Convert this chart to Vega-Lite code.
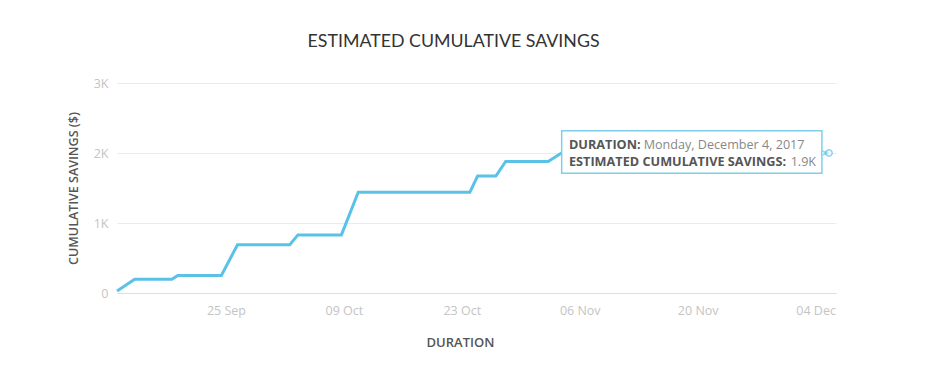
{
  "$schema": "https://vega.github.io/schema/vega-lite/v6.json",
  "autosize": "none",
  "width": 719,
  "height": 210,
  "padding": {"left": 117, "top": 83, "right": 100, "bottom": 89},
  "background": "white",
  "config": {
    "view": {"stroke": null},
    "font": "Open Sans"
  },
  "title": {
    "text": "ESTIMATED CUMULATIVE SAVINGS",
    "font": "Lato",
    "fontSize": 17.8,
    "fontWeight": "normal",
    "color": "#333333",
    "anchor": "middle",
    "frame": "group",
    "dx": -23,
    "offset": 26
  },
  "datasets": {
    "savings": [
      {"date": "2017-09-12T02:00", "value": 30},
      {"date": "2017-09-14T04:00", "value": 195},
      {"date": "2017-09-18T14:00", "value": 195},
      {"date": "2017-09-19T07:00", "value": 250},
      {"date": "2017-09-24T11:00", "value": 250},
      {"date": "2017-09-26T09:00", "value": 690},
      {"date": "2017-10-02T14:00", "value": 690},
      {"date": "2017-10-03T13:00", "value": 830},
      {"date": "2017-10-08T17:00", "value": 830},
      {"date": "2017-10-10T17:00", "value": 1440},
      {"date": "2017-10-23T23:00", "value": 1440},
      {"date": "2017-10-24T21:00", "value": 1670},
      {"date": "2017-10-27T01:00", "value": 1670},
      {"date": "2017-10-28T05:00", "value": 1880},
      {"date": "2017-11-02T06:00", "value": 1880},
      {"date": "2017-11-03T20:00", "value": 2000},
      {"date": "2017-12-05T14:00", "value": 2000}
    ],
    "hover": [
      {"date": "2017-12-05T14:00", "value": 2000}
    ],
    "box": [
      {"start": "2017-11-03T20:30", "end": "2017-12-04T17:50", "low": 1710, "high": 2319}
    ],
    "boldText": [
      {"date": "2017-11-04T17:15", "value": 2057, "label": "DURATION:"},
      {"date": "2017-11-04T17:15", "value": 1819, "label": "ESTIMATED CUMULATIVE SAVINGS:"}
    ],
    "plainText": [
      {"date": "2017-11-13T14:00", "value": 2057, "label": "Monday, December 4, 2017"},
      {"date": "2017-12-01T00:45", "value": 1819, "label": "1.9K"}
    ]
  },
  "layer": [
    {
      "data": {"name": "savings"},
      "mark": {"type": "line", "color": "#5BC2E7", "strokeWidth": 3, "strokeJoin": "miter"},
      "encoding": {
        "x": {
          "field": "date",
          "type": "temporal",
          "title": "DURATION",
          "scale": {
            "domain": [
              {"year": 2017, "month": "sep", "date": 12, "hours": 1, "minutes": 40},
              {"year": 2017, "month": "dec", "date": 6, "hours": 10}
            ]
          },
          "axis": {
            "values": [
              {"year": 2017, "month": "sep", "date": 25},
              {"year": 2017, "month": "oct", "date": 9},
              {"year": 2017, "month": "oct", "date": 23},
              {"year": 2017, "month": "nov", "date": 6},
              {"year": 2017, "month": "nov", "date": 20},
              {"year": 2017, "month": "dec", "date": 4}
            ],
            "format": "%d %b",
            "grid": false,
            "ticks": false,
            "domainColor": "#dddddd",
            "labelColor": "#c4c4c4",
            "labelFontSize": 12.5,
            "labelPadding": 11,
            "titleColor": "#555555",
            "titleFontSize": 13,
            "titleFontWeight": 600,
            "titlePadding": 20,
            "titleX": 343
          }
        },
        "y": {
          "field": "value",
          "type": "quantitative",
          "title": "CUMULATIVE SAVINGS ($)",
          "scale": {"domain": [0, 3000], "nice": false},
          "axis": {
            "values": [0, 1000, 2000, 3000],
            "labelExpr": "datum.value == 0 ? '0' : (datum.value / 1000) + 'K'",
            "domain": false,
            "ticks": false,
            "gridColor": "#ebebeb",
            "labelColor": "#c4c4c4",
            "labelFontSize": 12.5,
            "labelPadding": 9,
            "titleColor": "#555555",
            "titleFontSize": 12.5,
            "titleFontWeight": 600,
            "titlePadding": 13
          }
        }
      }
    },
    {
      "mark": {"type": "rule", "color": "#e6e6e6", "strokeWidth": 1},
      "encoding": {
        "x": {"datum": {"year": 2017, "month": "dec", "date": 6, "hours": 10}, "type": "temporal"}
      }
    },
    {
      "data": {"name": "box"},
      "mark": {"type": "rect", "fill": "white", "stroke": "#7FCFEC", "strokeWidth": 1.5},
      "encoding": {
        "x": {"field": "start", "type": "temporal"},
        "x2": {"field": "end"},
        "y": {"field": "low", "type": "quantitative"},
        "y2": {"field": "high"}
      }
    },
    {
      "data": {"name": "hover"},
      "mark": {"type": "point", "shape": "triangle-right", "filled": true, "fill": "white", "stroke": "#7FCFEC", "strokeWidth": 1.2, "size": 30, "xOffset": -5},
      "encoding": {
        "x": {"field": "date", "type": "temporal"},
        "y": {"field": "value", "type": "quantitative"}
      }
    },
    {
      "data": {"name": "hover"},
      "mark": {"type": "point", "shape": "circle", "filled": true, "fill": "white", "stroke": "#5BC2E7", "strokeWidth": 1.5, "size": 40},
      "encoding": {
        "x": {"field": "date", "type": "temporal"},
        "y": {"field": "value", "type": "quantitative"}
      }
    },
    {
      "data": {"name": "boldText"},
      "mark": {"type": "text", "align": "left", "baseline": "alphabetic", "font": "Open Sans", "fontSize": 12.7, "fontWeight": "bold", "color": "#555555"},
      "encoding": {
        "x": {"field": "date", "type": "temporal"},
        "y": {"field": "value", "type": "quantitative"},
        "text": {"field": "label"}
      }
    },
    {
      "data": {"name": "plainText"},
      "mark": {"type": "text", "align": "left", "baseline": "alphabetic", "font": "Open Sans", "fontSize": 12.6, "color": "#888888"},
      "encoding": {
        "x": {"field": "date", "type": "temporal"},
        "y": {"field": "value", "type": "quantitative"},
        "text": {"field": "label"}
      }
    }
  ]
}
